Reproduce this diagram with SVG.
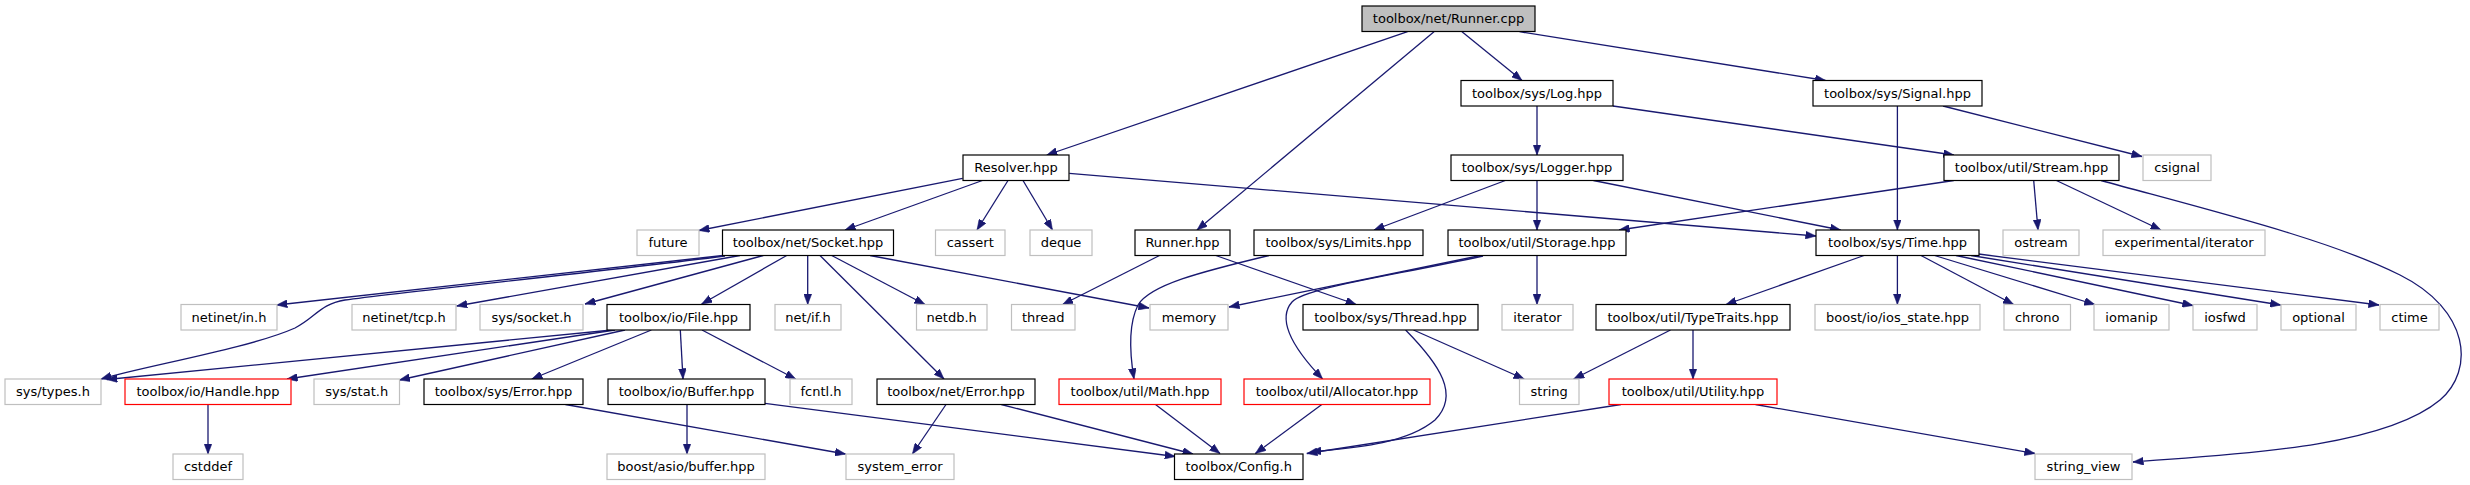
<svg xmlns="http://www.w3.org/2000/svg" width="2470" height="485" viewBox="0 0 2470 485">
<style>
rect{stroke-width:1.2}
.doc{fill:#ffffff;stroke:#000000}
.root{fill:#bfbfbf;stroke:#000000}
.ext{fill:#ffffff;stroke:#bfbfbf}
.red{fill:#ffffff;stroke:#ff0000}
text{font-family:"DejaVu Sans","Noto Sans",sans-serif;font-size:13px;fill:#000000;text-anchor:middle}
.e{fill:none;stroke:#191970;stroke-width:1.3;marker-end:url(#ah)}
</style>
<defs>
<marker id="ah" markerUnits="userSpaceOnUse" markerWidth="11" markerHeight="8" refX="10.5" refY="4" orient="auto">
<path d="M0,0 L10.5,4 L0,8 z" fill="#191970" stroke="#191970" stroke-width="0.5"/>
</marker>
</defs>
<rect x="0" y="0" width="2470" height="485" fill="#ffffff"/>
<g id="connectors">
<path class="e" d="M1407.6,31.7 L1046.8,155"/>
<path class="e" d="M1434,31.7 L1197,230"/>
<path class="e" d="M1462,31.7 L1522,80.5"/>
<path class="e" d="M1519.5,31.7 L1825.6,80.5"/>
<path class="e" d="M1537,106 L1537,155"/>
<path class="e" d="M1613,106 L1953.8,155"/>
<path class="e" d="M1897.4,106 L1897.4,230"/>
<path class="e" d="M1943,106 L2142,156.5"/>
<path class="e" d="M962.6,178.3 L698.9,230.5"/>
<path class="e" d="M982.4,180.5 L845,230"/>
<path class="e" d="M1008,180.5 L977,230"/>
<path class="e" d="M1023,180.5 L1052.5,230"/>
<path class="e" d="M1069.3,173.3 L1816,236"/>
<path class="e" d="M1505.3,180.5 L1374,230"/>
<path class="e" d="M1537,180.5 L1537,230"/>
<path class="e" d="M1593.4,180.5 L1840.6,230"/>
<path class="e" d="M1953.8,180.5 L1619,230"/>
<path class="e" d="M2033.7,180.5 L2038,230"/>
<path class="e" d="M2056.4,180.5 L2161,230"/>
<path class="e" d="M2101,180.5 C2220,213 2330,240 2400,275 C2470,310 2475,370 2440,400 C2380,450 2220,455 2133,462"/>
<path class="e" d="M723,255.5 L276.8,305"/>
<path class="e" d="M725,256 C600,272 400,292 345,300 C320,304 315,318 295,328 C250,348 150,365 101,379"/>
<path class="e" d="M740,255.5 L456.7,306"/>
<path class="e" d="M763.3,255.5 L585,304"/>
<path class="e" d="M786.7,255.5 L701.7,304"/>
<path class="e" d="M807.7,255.5 L807.7,304.5"/>
<path class="e" d="M820,255.5 L944,379"/>
<path class="e" d="M831.7,255.5 L925,304.5"/>
<path class="e" d="M870,255.5 L1149,308"/>
<path class="e" d="M612,330 L106.8,379.5"/>
<path class="e" d="M615,330 L287,379"/>
<path class="e" d="M625,330 L399.4,380"/>
<path class="e" d="M651.4,330 L531.8,379"/>
<path class="e" d="M680.3,330 L683,379"/>
<path class="e" d="M702,330 L795.7,379"/>
<path class="e" d="M208,404.5 L208,454"/>
<path class="e" d="M565.4,404.5 L845.5,454"/>
<path class="e" d="M687,404.5 L687,454"/>
<path class="e" d="M764.9,403.3 L1175.3,456.5"/>
<path class="e" d="M946,404.5 L912.4,454"/>
<path class="e" d="M1001.3,404.5 L1193,454"/>
<path class="e" d="M1155.5,404.5 L1220,453.5"/>
<path class="e" d="M1321.8,404.5 L1255.4,453.5"/>
<path class="e" d="M1621,404.5 L1306.8,453.5"/>
<path class="e" d="M1405.6,330 C1440,365 1460,395 1435,420 C1405,445 1350,448 1310.7,452"/>
<path class="e" d="M1413.5,330 L1524.2,379"/>
<path class="e" d="M1215.8,255.5 L1356.2,304.5"/>
<path class="e" d="M1159.5,255.5 L1062.6,304.5"/>
<path class="e" d="M1269,255.5 C1200,272 1150,285 1138,305 C1128,325 1130,355 1134,379"/>
<path class="e" d="M1480.7,255.5 L1229,307"/>
<path class="e" d="M1483,256 C1380,278 1305,288 1292,302 C1278,318 1290,345 1322.6,379"/>
<path class="e" d="M1537,255.5 L1537,304.5"/>
<path class="e" d="M1864,255.5 L1726,304.5"/>
<path class="e" d="M1897.4,255.5 L1897.4,304.5"/>
<path class="e" d="M1921,255.5 L2013.6,304.5"/>
<path class="e" d="M1934.6,255.5 L2094.8,304.5"/>
<path class="e" d="M1956,255.5 L2193,305.5"/>
<path class="e" d="M1971,255.5 L2280.7,305"/>
<path class="e" d="M1978.6,254 L2379,305"/>
<path class="e" d="M1670.5,330 L1573.7,379"/>
<path class="e" d="M1693,330 L1693,379"/>
<path class="e" d="M1755.5,404.5 L2035,453.5"/>
</g>
<g id="n_runner_cpp"><rect class="root" x="1362" y="6" width="173" height="25.5"/><text x="1448.5" y="23.3">toolbox/net/Runner.cpp</text></g>
<g id="n_log"><rect class="doc" x="1461" y="80.5" width="152" height="25.5"/><text x="1537" y="97.8">toolbox/sys/Log.hpp</text></g>
<g id="n_signal"><rect class="doc" x="1813" y="80.5" width="169" height="25.5"/><text x="1897.5" y="97.8">toolbox/sys/Signal.hpp</text></g>
<g id="n_resolver"><rect class="doc" x="963" y="155" width="106" height="25.5"/><text x="1016" y="172.3">Resolver.hpp</text></g>
<g id="n_logger"><rect class="doc" x="1451" y="155" width="172" height="25.5"/><text x="1537" y="172.3">toolbox/sys/Logger.hpp</text></g>
<g id="n_stream"><rect class="doc" x="1944" y="155" width="175" height="25.5"/><text x="2031.5" y="172.3">toolbox/util/Stream.hpp</text></g>
<g id="n_csignal"><rect class="ext" x="2143" y="155" width="68" height="25.5"/><text x="2177" y="172.3">csignal</text></g>
<g id="n_future"><rect class="ext" x="637" y="230" width="62" height="25.5"/><text x="668" y="247.3">future</text></g>
<g id="n_socket"><rect class="doc" x="722.5" y="230" width="171" height="25.5"/><text x="808" y="247.3">toolbox/net/Socket.hpp</text></g>
<g id="n_cassert"><rect class="ext" x="935.5" y="230" width="69.5" height="25.5"/><text x="970.2" y="247.3">cassert</text></g>
<g id="n_deque"><rect class="ext" x="1030" y="230" width="62" height="25.5"/><text x="1061" y="247.3">deque</text></g>
<g id="n_runner_hpp"><rect class="doc" x="1135" y="230" width="95" height="25.5"/><text x="1182.5" y="247.3">Runner.hpp</text></g>
<g id="n_limits"><rect class="doc" x="1254" y="230" width="169" height="25.5"/><text x="1338.5" y="247.3">toolbox/sys/Limits.hpp</text></g>
<g id="n_storage"><rect class="doc" x="1448" y="230" width="178" height="25.5"/><text x="1537" y="247.3">toolbox/util/Storage.hpp</text></g>
<g id="n_time"><rect class="doc" x="1816" y="230" width="163" height="25.5"/><text x="1897.5" y="247.3">toolbox/sys/Time.hpp</text></g>
<g id="n_ostream"><rect class="ext" x="2003" y="230" width="76" height="25.5"/><text x="2041" y="247.3">ostream</text></g>
<g id="n_expiter"><rect class="ext" x="2103" y="230" width="162" height="25.5"/><text x="2184" y="247.3">experimental/iterator</text></g>
<g id="n_netin"><rect class="ext" x="181" y="304.5" width="96" height="25.5"/><text x="229" y="321.8">netinet/in.h</text></g>
<g id="n_nettcp"><rect class="ext" x="352" y="304.5" width="104" height="25.5"/><text x="404" y="321.8">netinet/tcp.h</text></g>
<g id="n_syssocket"><rect class="ext" x="480" y="304.5" width="103" height="25.5"/><text x="531.5" y="321.8">sys/socket.h</text></g>
<g id="n_file"><rect class="doc" x="607" y="304.5" width="143" height="25.5"/><text x="678.5" y="321.8">toolbox/io/File.hpp</text></g>
<g id="n_netif"><rect class="ext" x="775" y="304.5" width="66" height="25.5"/><text x="808" y="321.8">net/if.h</text></g>
<g id="n_netdb"><rect class="ext" x="916.5" y="304.5" width="70.5" height="25.5"/><text x="951.7" y="321.8">netdb.h</text></g>
<g id="n_thread"><rect class="ext" x="1011.5" y="304.5" width="63.5" height="25.5"/><text x="1043.2" y="321.8">thread</text></g>
<g id="n_memory"><rect class="ext" x="1150" y="304.5" width="78" height="25.5"/><text x="1189" y="321.8">memory</text></g>
<g id="n_systhread"><rect class="doc" x="1303" y="304.5" width="175" height="25.5"/><text x="1390.5" y="321.8">toolbox/sys/Thread.hpp</text></g>
<g id="n_iterator"><rect class="ext" x="1502" y="304.5" width="71" height="25.5"/><text x="1537.5" y="321.8">iterator</text></g>
<g id="n_typetraits"><rect class="doc" x="1596" y="304.5" width="194" height="25.5"/><text x="1693" y="321.8">toolbox/util/TypeTraits.hpp</text></g>
<g id="n_iosstate"><rect class="ext" x="1815" y="304.5" width="165" height="25.5"/><text x="1897.5" y="321.8">boost/io/ios_state.hpp</text></g>
<g id="n_chrono"><rect class="ext" x="2004" y="304.5" width="66.5" height="25.5"/><text x="2037.2" y="321.8">chrono</text></g>
<g id="n_iomanip"><rect class="ext" x="2094" y="304.5" width="75" height="25.5"/><text x="2131.5" y="321.8">iomanip</text></g>
<g id="n_iosfwd"><rect class="ext" x="2193" y="304.5" width="64" height="25.5"/><text x="2225" y="321.8">iosfwd</text></g>
<g id="n_optional"><rect class="ext" x="2281" y="304.5" width="75" height="25.5"/><text x="2318.5" y="321.8">optional</text></g>
<g id="n_ctime"><rect class="ext" x="2380" y="304.5" width="59" height="25.5"/><text x="2409.5" y="321.8">ctime</text></g>
<g id="n_systypes"><rect class="ext" x="5" y="379" width="96" height="25.5"/><text x="53" y="396.3">sys/types.h</text></g>
<g id="n_handle"><rect class="red" x="125" y="379" width="166" height="25.5"/><text x="208" y="396.3">toolbox/io/Handle.hpp</text></g>
<g id="n_sysstat"><rect class="ext" x="314" y="379" width="85.5" height="25.5"/><text x="356.7" y="396.3">sys/stat.h</text></g>
<g id="n_syserror"><rect class="doc" x="424" y="379" width="159" height="25.5"/><text x="503.5" y="396.3">toolbox/sys/Error.hpp</text></g>
<g id="n_buffer"><rect class="doc" x="608" y="379" width="157" height="25.5"/><text x="686.5" y="396.3">toolbox/io/Buffer.hpp</text></g>
<g id="n_fcntl"><rect class="ext" x="790" y="379" width="62" height="25.5"/><text x="821" y="396.3">fcntl.h</text></g>
<g id="n_neterror"><rect class="doc" x="877" y="379" width="158" height="25.5"/><text x="956" y="396.3">toolbox/net/Error.hpp</text></g>
<g id="n_math"><rect class="red" x="1059" y="379" width="162" height="25.5"/><text x="1140" y="396.3">toolbox/util/Math.hpp</text></g>
<g id="n_allocator"><rect class="red" x="1244" y="379" width="186" height="25.5"/><text x="1337" y="396.3">toolbox/util/Allocator.hpp</text></g>
<g id="n_string"><rect class="ext" x="1519.5" y="379" width="59.5" height="25.5"/><text x="1549.2" y="396.3">string</text></g>
<g id="n_utility"><rect class="red" x="1609" y="379" width="168" height="25.5"/><text x="1693" y="396.3">toolbox/util/Utility.hpp</text></g>
<g id="n_cstddef"><rect class="ext" x="173" y="454" width="70" height="25.5"/><text x="208" y="471.3">cstddef</text></g>
<g id="n_asiobuf"><rect class="ext" x="607" y="454" width="158" height="25.5"/><text x="686" y="471.3">boost/asio/buffer.hpp</text></g>
<g id="n_syserr"><rect class="ext" x="846" y="454" width="108" height="25.5"/><text x="900" y="471.3">system_error</text></g>
<g id="n_config"><rect class="doc" x="1174.5" y="454" width="128.5" height="25.5"/><text x="1238.7" y="471.3">toolbox/Config.h</text></g>
<g id="n_strview"><rect class="ext" x="2035" y="454" width="97" height="25.5"/><text x="2083.5" y="471.3">string_view</text></g>
</svg>
